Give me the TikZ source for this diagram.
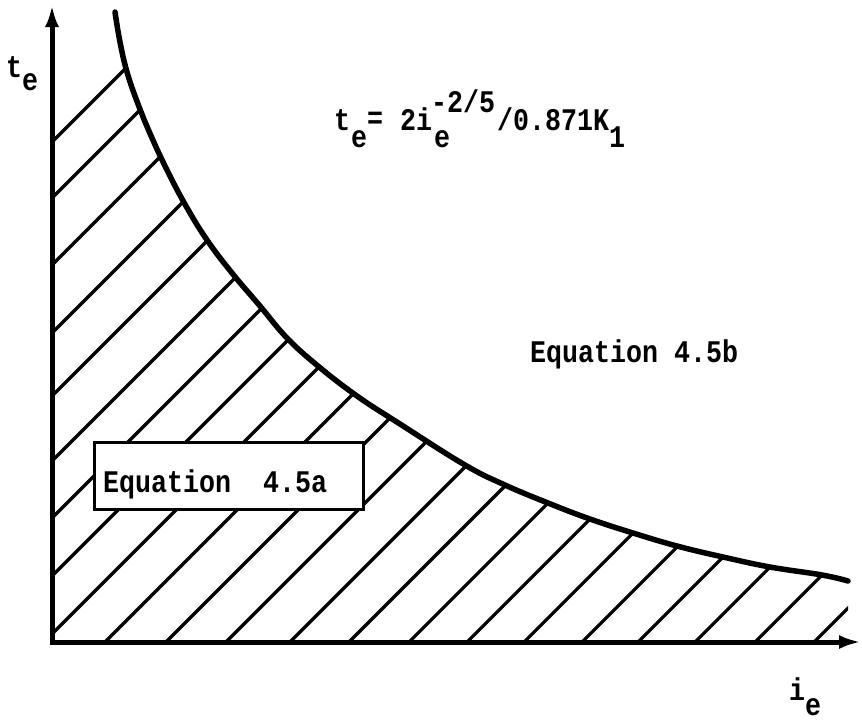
\documentclass[tikz,border=0pt]{standalone}
\usepackage{fontspec}
\newfontfamily\twf{Liberation Mono}
\usetikzlibrary{arrows.meta}
\newcommand{\tw}[1]{\scalebox{1}[1.18]{#1}}
\tikzset{
  lbl/.style={font=\twf\bfseries\fontsize{26.66}{30}\selectfont, inner sep=0pt, anchor=base west},
  axisline/.style={line width=5pt, {Latex[length=22pt,width=14pt]}-{Latex[length=22pt,width=14pt]}},
  hatch/.style={line width=3.2pt},
  curveline/.style={line width=5.5pt, line cap=round},
  eqbox/.style={draw, line width=3pt, fill=white, anchor=north west, minimum width=269pt, minimum height=67pt, inner sep=0pt}
}
\begin{document}
\begin{tikzpicture}[x=1pt,y=-1pt]
\useasboundingbox (0,0) rectangle (862,720);
\fill[white] (0,0) rectangle (862,720);
\coordinate (O) at (52,642);
\coordinate (ytip) at (52,5);
\coordinate (xtip) at (861,642);
\begin{scope}
  \clip (52,642) -- (52,-20) -- (112,-20) -- plot[smooth,tension=0.7] coordinates {(115,12) (120,42) (127,72) (138,104) (152,138) (168,172) (186,206) (207,240) (232,273) (260,306) (287,338) (318,366) (357,396) (400,424) (465,465) (505,485) (548,503) (590,519) (633,533) (677,546) (723,557) (770,567) (822,575) (848,581)} -- (848,642) -- cycle;
  \foreach \s in {194,250,317,385,448,513,570,628,686,747,808,868,932,991,1051,1109,1166,1224,1280,1337,1397,1456}
    \draw[hatch] ({\s-700},700) -- ({\s+20},-20);
\end{scope}
\draw[curveline] plot[smooth,tension=0.7] coordinates {(115,12) (120,42) (127,72) (138,104) (152,138) (168,172) (186,206) (207,240) (232,273) (260,306) (287,338) (318,366) (357,396) (400,424) (465,465) (505,485) (548,503) (590,519) (633,533) (677,546) (723,557) (770,567) (822,575) (848,581)};
\draw[axisline] (ytip) -- (O) -- (xtip);
% y label
\node[lbl] (yt) at (6,77) {\tw{t}};
\node[lbl] (ye) at (22,90) {\tw{e}};
% x label
\node[lbl] (xi) at (789,700) {\tw{i}};
\node[lbl] (xe) at (805,715) {\tw{e}};
% formula
\node[lbl] (f1) at (334,130) {\tw{t}};
\node[lbl] (f2) at (351,147) {\tw{e}};
\node[lbl] (f3) at (367,128) {\tw{=}};
\node[lbl] (f4) at (400,130) {\tw{2i}};
\node[lbl] (f5) at (431,112) {\tw{-2/5}};
\node[lbl] (f6) at (434,147) {\tw{e}};
\node[lbl] (f7) at (497,130) {\tw{/0.871K}};
\node[lbl] (f8) at (609,147) {\tw{1}};
% equation labels
\node[eqbox] (boxa) at (93,441) {};
\node[lbl] (eqa) at (103,492) {\tw{Equation\ \ 4.5a}};
\node[lbl] (eqb) at (530,362) {\tw{Equation 4.5b}};
\end{tikzpicture}
\end{document}
